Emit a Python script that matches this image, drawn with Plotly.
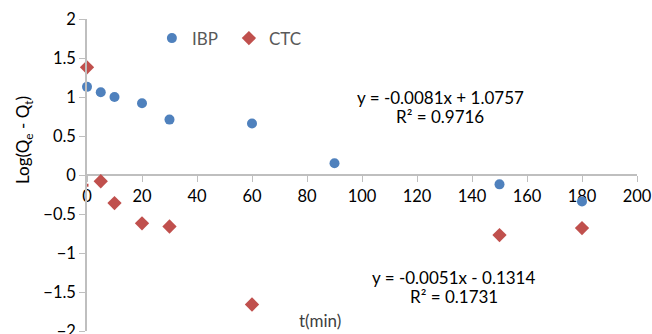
import plotly.graph_objects as go

t_ibp = [0, 5, 10, 20, 30, 60, 90, 150, 180]
ibp = [1.13, 1.06, 1.00, 0.92, 0.71, 0.66, 0.15, -0.12, -0.34]
t_ctc = [0, 5, 10, 20, 30, 60, 150, 180]
ctc = [1.38, -0.08, -0.36, -0.62, -0.66, -1.66, -0.77, -0.68]
ctc_intercept = -0.1314
x_ticks = [0, 20, 40, 60, 80, 100, 120, 140, 160, 180, 200]
y_ticks = [-2, -1.5, -1, -0.5, 0, 0.5, 1, 1.5, 2]

font = "Lato, Open Sans, sans-serif"
fig = go.Figure()
fig.add_trace(go.Scatter(x=t_ibp, y=ibp, mode="markers", name="IBP",
                         marker=dict(symbol="circle", size=10, color="#4F81BD"),
                         cliponaxis=False))
fig.add_trace(go.Scatter(x=t_ctc, y=ctc, mode="markers", name="CTC",
                         marker=dict(symbol="diamond", size=11, color="#C0504D"),
                         cliponaxis=False))
fig.add_trace(go.Scatter(x=[0], y=[ctc_intercept], mode="markers", showlegend=False,
                         marker=dict(symbol="square", size=3, color="#C0504D"),
                         cliponaxis=False))

axcol = "#BFBFBF"
fig.update_layout(
    width=652, height=334,
    margin=dict(l=87, r=15, t=19, b=3, autoexpand=False),
    paper_bgcolor="white", plot_bgcolor="white",
    font=dict(family=font, size=16, color="#000000"),
    showlegend=True,
    legend=dict(orientation="h", x=0.118, y=0.995, xanchor="left", yanchor="top",
                font=dict(size=17, color="#595959"), bgcolor="rgba(0,0,0,0)",
                entrywidth=32, entrywidthmode="pixels", tracegroupgap=0),
    xaxis=dict(range=[0, 200], tickvals=x_ticks, showgrid=False, zeroline=False,
               showline=True, linecolor=axcol, linewidth=1.5, automargin=False,
               ticks="outside", ticklen=6, tickcolor=axcol,
               anchor="free", position=0.5, layer="below traces",
               tickfont=dict(size=16.5, color="#000000")),
    yaxis=dict(range=[-2, 2], tickvals=y_ticks, showgrid=False, zeroline=False,
               showline=True, linecolor=axcol, linewidth=1.5, automargin=False,
               ticks="outside", ticklen=6, tickcolor=axcol, ticklabeloverflow="allow",
               tickfont=dict(size=16.5, color="#000000")),
)

ann = [
    dict(x=128.4, y=1.0, text="y = -0.0081x + 1.0757"),
    dict(x=128.4, y=0.75, text="R² = 0.9716"),
    dict(x=133.3, y=-1.31, text="y = -0.0051x - 0.1314"),
    dict(x=133.3, y=-1.56, text="R² = 0.1731"),
]
for a in ann:
    fig.add_annotation(x=a["x"], y=a["y"], xref="x", yref="y", text=a["text"],
                       showarrow=False, font=dict(size=17, color="#000000"))
fig.add_annotation(x=84.7, y=-1.86, xref="x", yref="y", text="t(min)",
                   showarrow=False, font=dict(size=17, color="#404040"))
fig.add_annotation(xref="paper", yref="paper", x=(10 - 87) / 550, y=1 - (140 - 19) / 312,
                   text="Log(Q<sub>e</sub> - Q<sub>t</sub>)",
                   showarrow=False, textangle=-90, font=dict(size=17, color="#000000"))

fig.write_html("out.html", config={"displayModeBar": False},
               post_script="document.body.style.margin='0';document.body.style.overflow='hidden';")
